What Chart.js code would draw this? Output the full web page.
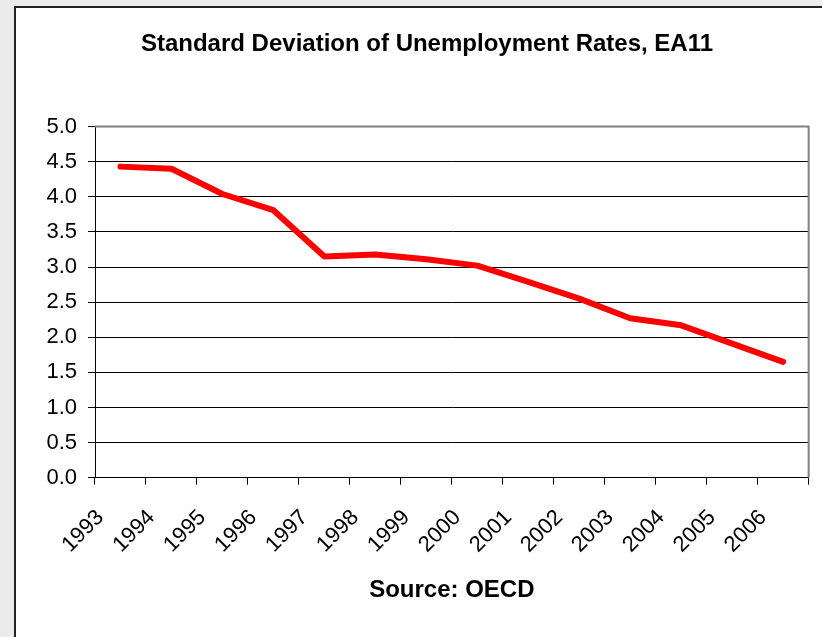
<!DOCTYPE html>
<html>
<head>
<meta charset="utf-8">
<script src="https://cdn.jsdelivr.net/npm/chart.js@4"></script>
<style>
  body { margin: 0; background: #ebebeb; overflow: hidden; }
  #box { position: absolute; left: 14px; top: 6px; width: 840px; height: 660px;
         border: 2px solid #222; background: #fff; }
  #chart-area { position: absolute; left: 0; top: 0; }
</style>
</head>
<body>
<div id="box"></div>
<canvas id="chart-area" width="822" height="637"></canvas>
<script>
var years = ['1993', '1994', '1995', '1996', '1997', '1998', '1999',
             '2000', '2001', '2002', '2003', '2004', '2005', '2006'];
var stdDev = [4.43, 4.40, 4.04, 3.81, 3.15, 3.18, 3.11,
              3.02, 2.79, 2.55, 2.27, 2.17, 1.91, 1.65];
var yTicks = [0, 0.5, 1, 1.5, 2, 2.5, 3, 3.5, 4, 4.5, 5];

var font = 'Liberation Sans, Arial, sans-serif';

// gray frame on top and right of the plot, like excel
var plotFrame = {
  id: 'plotFrame',
  beforeDatasetsDraw: function(chart) {
    var a = chart.chartArea;
    var ctx = chart.ctx;
    ctx.save();
    ctx.strokeStyle = '#808080';
    ctx.lineWidth = 2;
    ctx.beginPath();
    ctx.moveTo(a.left, a.top);
    ctx.lineTo(a.right, a.top);
    ctx.lineTo(a.right, a.bottom);
    ctx.stroke();
    ctx.restore();
  }
};

var config = {
  type: 'line',
  data: {
    labels: years,
    datasets: [{
      label: 'Standard Deviation',
      data: stdDev,
      borderColor: '#ff0000',
      borderWidth: 6,
      borderCapStyle: 'round',
      borderJoinStyle: 'round',
      pointRadius: 0,
      tension: 0,
      fill: false
    }]
  },
  options: {
    responsive: false,
    animation: false,
    devicePixelRatio: 1,
    layout: { padding: { left: 37, right: 5, top: 0, bottom: 0 } },
    plugins: {
      legend: { display: false },
      tooltip: { enabled: false },
      title: {
        display: true,
        text: 'Standard Deviation of Unemployment Rates, EA11',
        color: '#000',
        font: { family: font, size: 24, weight: 'bold' },
        padding: { top: 30, bottom: 67.8 }
      }
    },
    scales: {
      x: {
        offset: true,
        grid: { offset: true, drawOnChartArea: false, drawTicks: true, tickLength: 7, color: '#000' },
        border: { color: '#000', width: 1 },
        ticks: {
          color: '#000',
          font: { family: font, size: 22 },
          minRotation: 45,
          maxRotation: 45,
          autoSkip: false,
          padding: 20,
          labelOffset: -20
        },
        title: {
          display: true,
          text: 'Source: OECD',
          color: '#000',
          font: { family: font, size: 24, weight: 'bold' },
          padding: { top: 0, bottom: 32.6 }
        },
        afterFit: function(s) { s.height = 159.3; }
      },
      y: {
        min: 0,
        max: 5,
        grid: { color: '#000', tickLength: 7, drawTicks: true },
        border: { color: '#000', width: 1 },
        ticks: {
          stepSize: 0.5,
          color: '#000',
          font: { family: font, size: 22 },
          padding: 11,
          callback: function(v) { return v.toFixed(1); }
        },
        afterBuildTicks: function(s) {
          s.ticks = yTicks.map(function(v) { return { value: v }; });
        },
        afterFit: function(s) { s.width = 58; }
      }
    }
  },
  plugins: [plotFrame]
};

window.onload = function() {
  var ctx = document.getElementById('chart-area');
  window.myLine = new Chart(ctx, config);
};
</script>
</body>
</html>
